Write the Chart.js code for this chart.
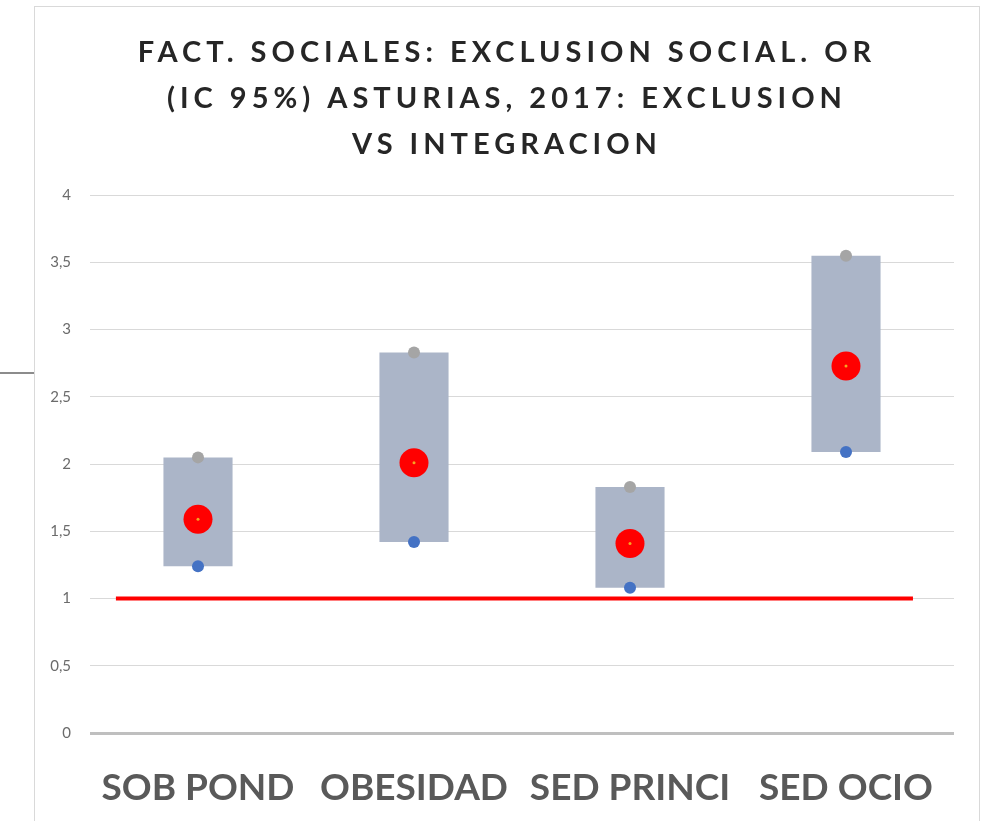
<!DOCTYPE html>
<html>
<head>
<meta charset="utf-8">
<script src="https://cdn.jsdelivr.net/npm/chart.js@4"></script>
<style>
  html, body { margin: 0; padding: 0; background: #fff; overflow: hidden; }
  #frame { position: absolute; left: 34px; top: 6px; width: 944px; height: 830px; border: 1px solid #d9d9d9; }
  #stub { position: absolute; left: 0; top: 372px; width: 34px; height: 2px; background: #8c8c8c; }
  canvas { display: block; }
</style>
</head>
<body>
<div id="stub"></div>
<div id="frame"><canvas id="orChart" width="944" height="815"></canvas></div>
<script>
// categories and values (OR with 95% CI)
var categories = ['SOB POND', 'OBESIDAD', 'SED PRINCI', 'SED OCIO'];
var lowerCI = [1.24, 1.42, 1.08, 2.09];
var upperCI = [2.05, 2.83, 1.83, 3.55];
var orValues = [1.59, 2.01, 1.41, 2.73];
var refLineX = [-0.38, 3.31];
var refValue = 1;
var yTicks = [0, 0.5, 1, 1.5, 2, 2.5, 3, 3.5, 4];

var titleLines = ['FACT. SOCIALES: EXCLUSION SOCIAL. OR', '(IC 95%) ASTURIAS, 2017: EXCLUSION', 'VS INTEGRACION'];

// spaced letters for the title only
var titleSpacing = {
  id: 'titleSpacing',
  beforeDraw: function (chart) {
    var tb = chart.titleBlock;
    if (!tb || tb._spaced) return;
    var orig = tb.draw;
    tb.draw = function () {
      var ctx = chart.ctx;
      ctx.save();
      ctx.letterSpacing = '5px';
      orig.apply(this, arguments);
      ctx.restore();
    };
    tb._spaced = true;
  }
};

var ctx = document.getElementById('orChart').getContext('2d');
var chart = new Chart(ctx, {
  data: {
    labels: categories,
    datasets: [
      {
        type: 'scatter',
        label: 'OR centro',
        data: orValues.map(function (v, i) { return { x: categories[i], y: v }; }),
        xAxisID: 'x',
        pointRadius: 1.5,
        pointBackgroundColor: '#f5a623',
        pointBorderWidth: 0,
        order: 0
      },
      {
        type: 'scatter',
        label: 'OR',
        data: orValues.map(function (v, i) { return { x: categories[i], y: v }; }),
        xAxisID: 'x',
        pointRadius: 14.5,
        pointBackgroundColor: '#ff0000',
        pointBorderWidth: 0,
        order: 1
      },
      {
        type: 'scatter',
        label: 'IC sup',
        data: upperCI.map(function (v, i) { return { x: categories[i], y: v }; }),
        xAxisID: 'x',
        pointRadius: 6,
        pointBackgroundColor: '#a5a5a5',
        pointBorderWidth: 0,
        order: 2
      },
      {
        type: 'scatter',
        label: 'IC inf',
        data: lowerCI.map(function (v, i) { return { x: categories[i], y: v }; }),
        xAxisID: 'x',
        pointRadius: 6,
        pointBackgroundColor: '#4472c4',
        pointBorderWidth: 0,
        order: 2
      },
      {
        type: 'line',
        label: 'Referencia',
        data: refLineX.map(function (x) { return { x: x, y: refValue }; }),
        xAxisID: 'xl',
        borderColor: '#ff0000',
        borderWidth: 4,
        pointRadius: 0,
        order: 3
      },
      {
        type: 'bar',
        label: 'IC 95%',
        data: lowerCI.map(function (v, i) { return [v, upperCI[i]]; }),
        xAxisID: 'x',
        backgroundColor: '#abb5c8',
        borderWidth: 0,
        grouped: false,
        barPercentage: 0.32,
        categoryPercentage: 1,
        order: 4
      }
    ]
  },
  options: {
    responsive: false,
    animation: false,
    layout: { padding: { left: 12.5, right: 12.5, top: 0, bottom: 0 } },
    plugins: {
      legend: { display: false },
      tooltip: { enabled: false },
      title: {
        display: true,
        text: titleLines,
        color: '#262626',
        font: { family: 'Lato', size: 29, weight: 'bold', lineHeight: 1.6 },
        padding: { top: 22, bottom: 27 }
      }
    },
    scales: {
      x: {
        type: 'category',
        offset: true,
        grid: { display: false },
        border: { display: false },
        ticks: {
          color: '#595959',
          font: { family: 'Lato', size: 37, weight: 'bold' },
          padding: 25,
          maxRotation: 0
        },
        afterFit: function (s) { s.height = 89; }
      },
      xl: {
        type: 'linear',
        display: false,
        min: -0.5,
        max: 3.5
      },
      y: {
        min: 0,
        max: 4,
        afterBuildTicks: function (s) { s.ticks = yTicks.map(function (v) { return { value: v }; }); },
        grid: {
          drawTicks: false,
          color: function (c) { return c.tick && c.tick.value === 0 ? '#bfbfbf' : '#d9d9d9'; },
          lineWidth: function (c) { return c.tick && c.tick.value === 0 ? 3 : 1; }
        },
        border: { display: false },
        ticks: {
          color: '#6b6b6b',
          font: { family: 'Lato', size: 15 },
          padding: 19,
          callback: function (v) { return String(v).replace('.', ','); }
        },
        afterFit: function (s) { s.width = 42.5; }
      },
      // empty right gutter so the plot keeps its place while the title stays centred
      yr: {
        position: 'right',
        min: 0,
        max: 4,
        grid: { display: false },
        border: { display: false },
        ticks: { display: false },
        afterFit: function (s) { s.width = 12.5; }
      }
    }
  },
  plugins: [titleSpacing]
});
</script>
</body>
</html>
